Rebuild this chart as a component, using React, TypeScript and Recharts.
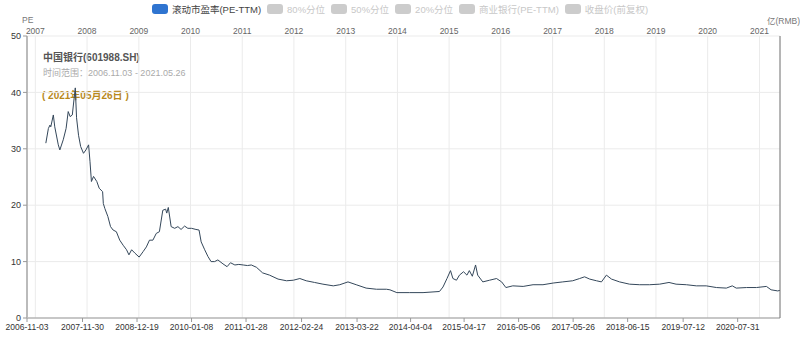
import { LineChart, Line, XAxis, YAxis, CartesianGrid } from 'recharts'

const peDates = [
  '2007-03-16', '2007-04-03', '2007-04-14', '2007-04-20', '2007-05-08', '2007-05-18', '2007-06-12', '2007-06-23', '2007-07-17', '2007-08-06',
  '2007-08-21', '2007-09-04', '2007-09-19', '2007-10-02', '2007-10-10', '2007-10-19', '2007-11-02', '2007-11-17', '2007-12-07', '2007-12-24',
  '2008-01-12', '2008-01-22', '2008-02-01', '2008-02-16', '2008-03-10', '2008-03-27', '2008-04-20', '2008-04-25', '2008-05-06', '2008-05-27',
  '2008-06-15', '2008-07-03', '2008-07-26', '2008-08-19', '2008-09-12', '2008-10-06', '2008-10-23', '2008-11-11', '2008-12-04',
  '2009-01-03', '2009-02-01', '2009-02-23', '2009-03-17', '2009-04-10', '2009-05-04', '2009-05-26', '2009-06-19', '2009-07-09', '2009-07-17',
  '2009-07-28', '2009-08-17', '2009-09-11', '2009-10-04', '2009-10-26', '2009-11-20', '2009-12-13',
  '2010-01-08', '2010-02-08', '2010-03-02', '2010-03-17', '2010-04-11', '2010-05-04', '2010-05-26', '2010-06-20', '2010-07-13', '2010-08-18',
  '2010-09-16', '2010-10-10', '2010-11-10', '2010-12-08',
  '2011-01-08', '2011-02-07', '2011-03-06', '2011-04-11', '2011-05-25', '2011-07-13', '2011-09-11', '2011-11-10', '2011-12-28',
  '2012-02-12', '2012-03-28', '2012-05-26', '2012-07-24', '2012-10-05', '2012-11-20',
  '2013-01-17', '2013-03-16', '2013-05-25', '2013-08-06', '2013-10-15', '2013-11-09', '2013-12-28',
  '2014-03-26', '2014-07-01', '2014-10-25', '2014-11-19', '2014-12-17',
  '2015-01-11', '2015-01-28', '2015-02-22', '2015-03-15', '2015-04-13', '2015-05-07', '2015-05-24', '2015-06-14', '2015-07-07', '2015-07-22',
  '2015-08-27', '2015-10-14', '2015-12-02',
  '2016-01-07', '2016-02-06', '2016-03-26', '2016-06-07', '2016-08-16', '2016-10-25',
  '2017-01-05', '2017-03-14', '2017-05-23', '2017-07-11', '2017-08-15', '2017-09-20', '2017-11-07', '2017-12-12',
  '2018-01-16', '2018-02-21', '2018-04-19', '2018-06-28', '2018-09-08', '2018-11-17',
  '2019-01-27', '2019-04-03', '2019-05-23', '2019-08-04', '2019-10-13', '2019-12-22',
  '2020-03-03', '2020-05-12', '2020-06-23', '2020-07-21', '2020-10-02', '2020-12-11',
  '2021-02-19', '2021-03-24', '2021-05-10', '2021-05-26',
]

const peValues = [
  31.0, 33.6, 34.2, 33.9, 36.0, 33.9, 30.7, 29.8, 31.6, 33.6,
  36.6, 35.7, 36.0, 39.0, 40.8, 35.5, 32.4, 30.4, 29.2, 29.8,
  30.7, 27.7, 24.2, 25.1, 24.2, 23.0, 22.4, 20.3, 19.4, 18.0,
  16.2, 15.6, 15.3, 13.8, 12.9, 12.1, 11.2, 12.1, 11.5,
  10.8, 11.8, 12.6, 13.8, 13.8, 15.0, 15.3, 19.1, 19.3, 18.6,
  19.6, 16.2, 15.9, 16.2, 15.7, 16.3, 15.9,
  15.9, 15.7, 15.6, 13.5, 12.1, 10.9, 10.0, 10.0, 10.3, 9.6,
  9.1, 9.8, 9.4, 9.5,
  9.4, 9.3, 9.4, 9.0, 8.0, 7.6, 6.9, 6.6, 6.7,
  7.0, 6.6, 6.3, 6.0, 5.7, 5.9,
  6.4, 5.9, 5.3, 5.1, 5.1, 5.0, 4.5,
  4.5, 4.5, 4.7, 5.5, 7.0,
  8.4, 7.0, 6.7, 7.6, 8.2, 7.6, 8.4, 7.4, 9.4, 7.6,
  6.4, 6.7, 7.0,
  6.4, 5.4, 5.7, 5.6, 5.9, 5.9,
  6.2, 6.4, 6.6, 7.0, 7.3, 6.9, 6.6, 6.4,
  7.6, 6.9, 6.4, 6.0, 5.9, 5.9,
  6.0, 6.3, 6.0, 5.9, 5.7, 5.7,
  5.4, 5.3, 5.7, 5.3, 5.4, 5.4,
  5.6, 5.0, 4.8, 4.9,
]

const bottomTicks = [
  '2006-11-03', '2007-11-30', '2008-12-19', '2010-01-08', '2011-01-28', '2012-02-24', '2013-03-22',
  '2014-04-04', '2015-04-17', '2016-05-06', '2017-05-26', '2018-06-15', '2019-07-12', '2020-07-31',
]
const years = ['2007', '2008', '2009', '2010', '2011', '2012', '2013', '2014', '2015', '2016', '2017', '2018', '2019', '2020', '2021']
const peTicks = [0, 10, 20, 30, 40, 50]

const legendItems = [
  { name: '滚动市盈率(PE-TTM)', active: true },
  { name: '80%分位', active: false },
  { name: '50%分位', active: false },
  { name: '20%分位', active: false },
  { name: '商业银行(PE-TTM)', active: false },
  { name: '收盘价(前复权)', active: false },
]

const startDate = '2006-11-03'
const endDate = '2021-05-26'

const toTime = (s: string) => {
  const [y, m, d] = s.split('-').map(Number)
  return Date.UTC(y, m - 1, d)
}
const fmtDate = (t: number) => new Date(t).toISOString().slice(0, 10)

const data = peDates.map((d, i) => ({ t: toTime(d), pe: peValues[i] }))
const domain = [toTime(startDate), toTime(endDate)]
const FONT = '"Liberation Sans", "Noto Sans CJK SC", sans-serif'

export default function App() {
  return (
    <div style={{ position: 'relative', width: 800, height: 347, fontFamily: FONT, background: '#fff' }}>
      <style>{'body{margin:0}'}</style>
      <div style={{ position: 'absolute', top: 2, left: 0, width: 800, display: 'flex', justifyContent: 'center', gap: 6, fontSize: 9.5, zIndex: 2, whiteSpace: 'nowrap' }}>
        {legendItems.map(it => (
          <div key={it.name} style={{ display: 'flex', alignItems: 'center', gap: 4, color: it.active ? '#444' : '#c8c8c8' }}>
            <span style={{ display: 'inline-block', width: 16, height: 10, borderRadius: 3, background: it.active ? '#2f74d0' : '#ccc' }} />
            <span>{it.name}</span>
          </div>
        ))}
      </div>
      <div style={{ position: 'absolute', left: 22, top: 15, fontSize: 8.5, color: '#777' }}>PE</div>
      <div style={{ position: 'absolute', left: 767, top: 14, fontSize: 8.5, color: '#777', whiteSpace: 'nowrap' }}>亿(RMB)</div>
      <div style={{ position: 'absolute', left: 43, top: 49, fontSize: 10, fontWeight: 'bold', color: '#555', whiteSpace: 'nowrap' }}>中国银行(601988.SH)</div>
      <div style={{ position: 'absolute', left: 43, top: 66, fontSize: 9, color: '#aaa', whiteSpace: 'nowrap' }}>时间范围：2006.11.03 - 2021.05.26</div>
      <div style={{ position: 'absolute', left: 42, top: 87, fontSize: 10, fontWeight: 'bold', color: '#b8891c', whiteSpace: 'nowrap' }}>( 2021年05月26日 )</div>
      <LineChart width={800} height={347} data={data} margin={{ top: 18, right: 0, bottom: 0, left: 0 }} style={{ fontFamily: FONT }}>
        <CartesianGrid xAxisId="top" yAxisId="pe" stroke="#ebebeb" />
        <XAxis
          xAxisId="top"
          orientation="top"
          dataKey="t"
          type="number"
          domain={domain}
          ticks={years.map(y => toTime(`${y}-01-01`))}
          tickFormatter={v => new Date(v).getUTCFullYear().toString()}
          height={18}
          axisLine={false}
          tickLine={false}
          tickSize={0}
          tickMargin={2}
          tick={{ fill: '#666', fontSize: 8.5 }}
          interval={0}
        />
        <XAxis
          xAxisId="bottom"
          dataKey="t"
          type="number"
          domain={domain}
          ticks={bottomTicks.map(toTime)}
          tickFormatter={v => fmtDate(v)}
          height={29}
          axisLine={{ stroke: '#999' }}
          tickLine={{ stroke: '#999' }}
          tickSize={4}
          tick={{ fill: '#333', fontSize: 8.5 }}
          interval={0}
        />
        <YAxis
          yAxisId="pe"
          domain={[0, 50]}
          ticks={peTicks}
          width={27}
          axisLine={{ stroke: '#bbb', strokeWidth: 2 }}
          tickLine={{ stroke: '#999' }}
          tickSize={4}
          tick={{ fill: '#333', fontSize: 9 }}
          interval={0}
        />
        <YAxis yAxisId="right" orientation="right" width={20} tick={false} axisLine={{ stroke: '#777' }} tickLine={false} />
        <Line
          xAxisId="bottom"
          yAxisId="pe"
          type="linear"
          dataKey="pe"
          stroke="#34475a"
          strokeWidth={1}
          dot={false}
          isAnimationActive={false}
        />
      </LineChart>
    </div>
  )
}
